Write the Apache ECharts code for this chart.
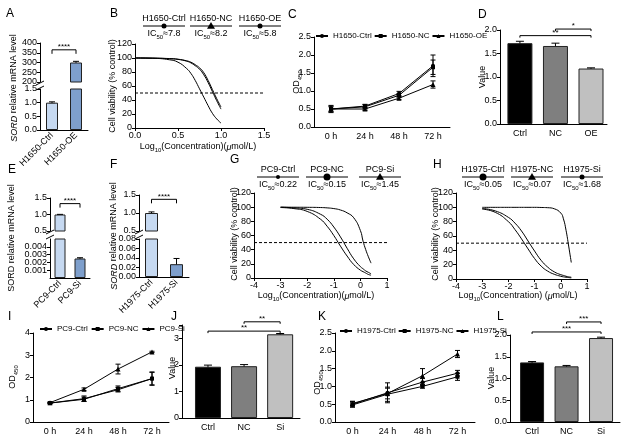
<!DOCTYPE html>
<html>
<head>
<meta charset="utf-8">
<script src="https://cdn.jsdelivr.net/npm/echarts@6/dist/echarts.min.js"></script>
<style>
  html, body { margin: 0; padding: 0; background: #fff; }
  #chart { width: 635px; height: 439px; }
</style>
</head>
<body>
<div id="chart"></div>
<script>
// ---- data ----
// A: SORD mRNA, H1650
const aCats = ['H1650-Ctrl', 'H1650-OE']
const aVals = [1.0, 300]
const aErr = [0.03, 6]
// B: viability curves, H1650
const bX = [0, 0.2, 0.4, 0.5, 0.6, 0.65, 0.7, 0.75, 0.8, 0.85, 0.9, 0.95, 1.0]
const bCtrl = [100, 99.8, 99, 98, 95.5, 93, 89, 84, 76, 65, 52, 39, 27]
const bNC = [100, 99.8, 99.2, 98.3, 96, 94, 90.5, 86, 79, 68, 55, 42, 30]
const bOE = [100, 99.6, 97.5, 94, 85, 78, 68, 56, 44, 32, 21, 13, 7]
// C: growth, H1650
const timeCats = ['0 h', '24 h', '48 h', '72 h']
const cCtrl = [0.5, 0.58, 0.93, 1.70]
const cCtrlErr = [0.1, 0.05, 0.06, 0.3]
const cNC = [0.5, 0.56, 0.88, 1.66]
const cNCErr = [0.08, 0.06, 0.05, 0.2]
const cOE = [0.5, 0.5, 0.8, 1.18]
const cOEErr = [0.06, 0.04, 0.04, 0.1]
// D
const dCats = ['Ctrl', 'NC', 'OE']
const dVals = [1.72, 1.66, 1.18]
const dErr = [0.04, 0.06, 0.015]
// E / F: SORD mRNA after knockdown
const eCats = ['PC9-Ctrl', 'PC9-Si']
const eVals = [1.0, 0.0025]
const eErr = [0.004, 0.0001]
const fCats = ['H1975-Ctrl', 'H1975-Si']
const fVals = [1.0, 0.027]
const fErr = [0.03, 0.012]
// G: viability curves, PC9
const gX = [-3, -2.5, -2, -1.5, -1.25, -1, -0.75, -0.5, -0.25, 0, 0.1, 0.2, 0.3, 0.4]
const gCtrl = [100, 99, 97, 90, 83, 72, 58, 42, 27, 16, 13, 10, 8, 6]
const gNC = [99.5, 98, 94, 83, 73, 60, 45, 31, 19, 11, 9, 7, 5, 4]
const gSi = [100, 99.9, 99.8, 99.5, 99, 98, 96, 92, 85, 67, 52, 40, 30, 21]
// H: viability curves, H1975
const hX = [-3, -2.5, -2, -1.75, -1.5, -1.25, -1, -0.75, -0.5, -0.25, 0, 0.1, 0.2, 0.3, 0.4]
const hCtrl = [97.5, 93, 80, 69, 56, 42, 28.5, 18, 11, 6.6, 3.8, 3, 2.5, 2, 1.6]
const hNC = [98.4, 95, 86, 78, 67, 53, 39, 26, 16.6, 10, 6, 5, 3.8, 3, 2.5]
const hSi = [100, 100, 100, 100, 100, 100, 100, 99.8, 99.5, 98, 92, 84, 68, 46, 23]
// I: growth, PC9
const iCtrl = [0.85, 1.05, 1.45, 1.95]
const iCtrlErr = [0.03, 0.12, 0.1, 0.3]
const iNC = [0.85, 1.02, 1.5, 1.95]
const iNCErr = [0.03, 0.1, 0.12, 0.28]
const iSi = [0.87, 1.47, 2.38, 3.15]
const iSiErr = [0.03, 0.06, 0.22, 0.03]
// J
const jCats = ['Ctrl', 'NC', 'Si']
const jVals = [1.93, 1.95, 3.15]
const jErr = [0.06, 0.06, 0.03]
// K: growth, H1975
const kCtrl = [0.5, 0.82, 1.12, 1.37]
const kCtrlErr = [0.08, 0.28, 0.1, 0.08]
const kNC = [0.48, 0.78, 1.0, 1.27]
const kNCErr = [0.06, 0.2, 0.05, 0.1]
const kSi = [0.52, 0.8, 1.3, 1.91]
const kSiErr = [0.06, 0.15, 0.2, 0.1]
// L
const lCats = ['Ctrl', 'NC', 'Si']
const lVals = [1.37, 1.28, 1.93]
const lErr = [0.02, 0.02, 0.02]
// significance brackets [from, to, level, text]
const aSig = [[0, 1, 365, '****']]
const eSig = [[0, 1, 1.33, '****']]
const fSig = [[0, 1, 1.38, '****']]
const dSig = [[0, 2, 1.88, '**'], [1, 2, 2.02, '*']]
const jSig = [[0, 2, 3.27, '**'], [1, 2, 3.62, '**']]
const lSig = [[0, 2, 2.07, '***'], [1, 2, 2.3, '***']]

const FONT = 'Liberation Sans, Arial, sans-serif'
const blueLight = '#c6d9f1'
const blueMid = '#7e9fcc'
const grays = ['#000000', '#7f7f7f', '#c0c0c0']

let grid = [], xAxis = [], yAxis = [], series = [], legend = [], graphic = []

const lbl = o => Object.assign({ color: '#000', fontSize: 9, fontFamily: FONT, margin: 3 }, o || {})
const axLine = { show: true, onZero: false, lineStyle: { color: '#000', width: 1 } }
const tick = { show: true, length: 3, lineStyle: { color: '#000', width: 1 } }

function vAxis(min, max, interval, fmt, extra) {
  return Object.assign({
    type: 'value', min: min, max: max, interval: interval,
    axisLine: axLine, axisTick: tick, splitLine: { show: false },
    axisLabel: lbl({ formatter: fmt })
  }, extra || {})
}
function cAxis(data, extra) {
  return Object.assign({
    type: 'category', data: data,
    axisLine: axLine, axisTick: { show: false }, splitLine: { show: false },
    axisLabel: lbl()
  }, extra || {})
}
function addPanel(l, t, w, h, xa, ya) {
  grid.push({ left: l, top: t, width: w, height: h })
  let gi = grid.length - 1
  xAxis.push(Object.assign({ gridIndex: gi }, xa))
  yAxis.push(Object.assign({ gridIndex: gi }, ya))
  return gi
}
// value-axis category labels for the bar panels
function catVal(names, min, max) {
  return {
    type: 'value', min: min, max: max,
    axisLine: axLine, axisTick: { show: false }, splitLine: { show: false },
    axisLabel: lbl({ customValues: [0, 1, 2], formatter: v => names[v] || '' , margin: 5})
  }
}

function bars(gi, vals, colors, width, useX) {
  series.push({
    type: 'bar', xAxisIndex: gi, yAxisIndex: gi, barWidth: width, z: 3, clip: true, silent: true,
    data: vals.map((v, i) => ({
      value: useX ? [i, v] : v,
      itemStyle: { color: colors[i], borderColor: '#222', borderWidth: 1 }
    }))
  })
}
function errs(gi, means, err, cap, z) {
  series.push({
    type: 'custom', xAxisIndex: gi, yAxisIndex: gi, z: z, silent: true, clip: true,
    data: means.map((m, i) => [i, m - err[i], m + err[i]]),
    renderItem: function (p, api) {
      let lo = api.coord([api.value(0), api.value(1)])
      let hi = api.coord([api.value(0), api.value(2)])
      let x = lo[0]
      let st = { stroke: '#000', lineWidth: 1 }
      return { type: 'group', children: [
        { type: 'line', shape: { x1: x, y1: lo[1], x2: x, y2: hi[1] }, style: st },
        { type: 'line', shape: { x1: x - cap, y1: hi[1], x2: x + cap, y2: hi[1] }, style: st },
        { type: 'line', shape: { x1: x - cap, y1: lo[1], x2: x + cap, y2: lo[1] }, style: st }
      ] }
    }
  })
}
function sig(gi, list, drop) {
  series.push({
    type: 'custom', xAxisIndex: gi, yAxisIndex: gi, z: 5, silent: true, clip: false,
    data: list.map(b => [b[0], b[1], b[2]]),
    renderItem: function (p, api) {
      let b = list[p.dataIndex]
      let p1 = api.coord([b[0], b[2]]), p2 = api.coord([b[1], b[2]])
      return { type: 'group', children: [
        { type: 'polyline', shape: { points: [[p1[0], p1[1] + drop], [p1[0], p1[1]], [p2[0], p2[1]], [p2[0], p2[1] + drop]] },
          style: { stroke: '#000', fill: null, lineWidth: 1 } },
        { type: 'text', style: { text: b[3], x: (p1[0] + p2[0]) / 2, y: p1[1] + 1, align: 'center', verticalAlign: 'bottom',
          fontSize: 8, fontFamily: FONT, fill: '#000' } }
      ] }
    }
  })
}
function curve(gi, xs, ys) {
  series.push({
    type: 'line', xAxisIndex: gi, yAxisIndex: gi, smooth: true, showSymbol: false, silent: true,
    lineStyle: { color: '#000', width: 1 },
    data: xs.map((x, i) => [x, ys[i]])
  })
}
function cutLine(gi, x0, x1) {
  series.push({
    type: 'line', xAxisIndex: gi, yAxisIndex: gi, showSymbol: false, silent: true,
    lineStyle: { color: '#000', width: 1, type: [3, 2] },
    data: [[x0, 50], [x1, 50]]
  })
}
function growth(gi, name, vals, err, symbol) {
  series.push({
    type: 'line', name: name, xAxisIndex: gi, yAxisIndex: gi, symbol: symbol, symbolSize: symbol === 'triangle' ? 5 : 4,
    showSymbol: true, silent: true, z: 4,
    itemStyle: { color: '#000' }, lineStyle: { color: '#000', width: 1 },
    data: vals
  })
  errs(gi, vals, err, 2.5, 3)
}

const SUB = {
  m: { fontSize: 9, fontFamily: FONT, lineHeight: 12 },
  s: { fontSize: 6, fontFamily: FONT, lineHeight: 12, verticalAlign: 'bottom' },
  i: { fontSize: 9, fontFamily: FONT, fontStyle: 'italic', lineHeight: 12 }
}
function txt(x, y, text, o) {
  o = o || {}
  graphic.push({
    type: 'text', x: x, y: y, rotation: o.rot || 0, silent: true,
    style: Object.assign({ text: text, fill: '#000', fontSize: 9, fontFamily: FONT, align: 'center',
      verticalAlign: 'middle', rich: SUB }, o.style || {})
  })
}
function letter(x, y, s) { txt(x, y, s, { style: { fontSize: 12, align: 'left' } }) }
function ytitle(x, y, s) { txt(x, y, s, { rot: Math.PI / 2 }) }
function brk(x, y) {
  graphic.push({ type: 'line', silent: true, shape: { x1: x - 4, y1: y + 2, x2: x + 4, y2: y - 2 },
    style: { stroke: '#000', lineWidth: 1 } })
}
function icItem(cx, y, title, ic, mk) {
  txt(cx, y, title)
  graphic.push({ type: 'line', silent: true, shape: { x1: cx - 21, y1: y + 7, x2: cx + 21, y2: y + 7 },
    style: { stroke: '#000', lineWidth: 1 } })
  if (mk[0] === 'c') {
    graphic.push({ type: 'circle', silent: true, shape: { cx: cx, cy: y + 7, r: mk[1] }, style: { fill: '#000' } })
  } else {
    let r = mk[1]
    graphic.push({ type: 'polygon', silent: true,
      shape: { points: [[cx, y + 7 - r], [cx - r, y + 7 + r * 0.7], [cx + r, y + 7 + r * 0.7]] }, style: { fill: '#000' } })
  }
  txt(cx, y + 15, '{m|IC}{s|50}{m|≈' + ic + '}')
}
function lineLegend(left, top, names, gap) {
  legend.push({
    left: left, top: top, itemWidth: 12, itemHeight: 5, itemGap: gap, selectedMode: false,
    padding: 0, textStyle: { fontSize: 8, fontFamily: 'Liberation Sans', color: '#000' }, data: names
  })
}
const f1 = v => v.toFixed(1)
const logName = '{m|Log}{s|10}{m|(Concentration)(}{i|μ}{m|mol/L)}'

// ---- A ----
let gA1 = addPanel(40, 43, 48, 39, cAxis(aCats, { show: false }), vAxis(200, 400, 50))
let gA2 = addPanel(40, 89, 48, 41, cAxis(aCats, { axisLabel: lbl({ rotate: 45, margin: 4 }) }), vAxis(0, 1.5, 0.5, f1))
;[gA1, gA2].forEach(g => { bars(g, aVals, [blueLight, blueMid], 12); errs(g, aVals, aErr, 3, 2) })
sig(gA1, aSig, 4)
brk(40, 83); brk(40, 88)
letter(6, 14, 'A')
ytitle(14, 88, '{i|SORD}{m| relative mRNA level}')

// ---- B ----
let gB = addPanel(135, 44, 129, 84, vAxis(0, 1.5, 0.5, f1), vAxis(0, 120, 20))
curve(gB, bX, bCtrl); curve(gB, bX, bNC); curve(gB, bX, bOE)
cutLine(gB, 0, 1.5)
letter(110, 14, 'B')
ytitle(113, 86, 'Cell viability (% control)')
txt(198, 147, logName)
icItem(164, 19, 'H1650-Ctrl', '7.8', ['c', 2.5])
icItem(211, 19, 'H1650-NC', '8.2', ['t', 4])
icItem(260, 19, 'H1650-OE', '5.8', ['c', 2.5])

// ---- C ----
let gC = addPanel(314, 37, 136, 90, cAxis(timeCats, { axisLabel: lbl({ margin: 5 }) }), vAxis(0, 2.5, 0.5, f1))
growth(gC, 'H1650-Ctrl', cCtrl, cCtrlErr, 'circle')
growth(gC, 'H1650-NC', cNC, cNCErr, 'rect')
growth(gC, 'H1650-OE', cOE, cOEErr, 'triangle')
lineLegend(315, 32, ['H1650-Ctrl', 'H1650-NC', 'H1650-OE'], 2)
letter(288, 15, 'C')
ytitle(297, 82, '{m|OD}{s|450}')

// ---- D ----
let gD = addPanel(500, 30, 107, 94, catVal(dCats, -0.56, 2.45), vAxis(0, 2, 0.5, f1))
bars(gD, dVals, grays, 25, true); errs(gD, dVals, dErr, 4, 2)
sig(gD, dSig, 2)
letter(478, 15, 'D')
ytitle(483, 77, 'Value')

// ---- E ----
let gE1 = addPanel(50, 198, 40, 33, cAxis(eCats, { show: false }), vAxis(0.5, 1.5, 0.5, f1))
let gE2 = addPanel(50, 239, 40, 39, cAxis(eCats, { axisLabel: lbl({ rotate: 45, margin: 4 }) }),
  vAxis(0, 0.005, 0.001, v => v.toFixed(3)))
;[gE1, gE2].forEach(g => { bars(g, eVals, [blueLight, blueMid], 11); errs(g, eVals, eErr, 3, 2) })
sig(gE1, eSig, 4)
brk(50, 232); brk(50, 237)
letter(8, 170, 'E')
ytitle(12, 238, '{m|SORD relative mRNA level}')

// ---- F ----
let gF1 = addPanel(139, 195, 50, 36, cAxis(fCats, { show: false }), vAxis(0.5, 1.5, 0.5, f1))
let gF2 = addPanel(139, 239, 50, 38, cAxis(fCats, { axisLabel: lbl({ rotate: 45, margin: 4 }) }),
  vAxis(0, 0.08, 0.02, v => v.toFixed(2)))
;[gF1, gF2].forEach(g => { bars(g, fVals, [blueLight, blueMid], 13); errs(g, fVals, fErr, 3, 2) })
sig(gF1, fSig, 4)
brk(139, 232); brk(139, 237)
letter(110, 165, 'F')
ytitle(114, 236, '{i|SORD}{m| relative mRNA level}')

// ---- G ----
let gG = addPanel(254, 193, 133, 85, vAxis(-4, 1, 1), vAxis(0, 120, 20))
curve(gG, gX, gCtrl); curve(gG, gX, gNC); curve(gG, gX, gSi)
cutLine(gG, -4, 1)
letter(230, 160, 'G')
ytitle(235, 234, 'Cell viability (% control)')
txt(316, 296, logName)
icItem(278, 170, 'PC9-Ctrl', '0.22', ['c', 2])
icItem(327, 170, 'PC9-NC', '0.15', ['c', 3.5])
icItem(380, 170, 'PC9-Si', '1.45', ['t', 4])

// ---- H ----
let gH = addPanel(456, 193, 131, 86, vAxis(-4, 1, 1), vAxis(0, 120, 20))
curve(gH, hX, hCtrl); curve(gH, hX, hNC); curve(gH, hX, hSi)
cutLine(gH, -4, 1)
letter(433, 165, 'H')
ytitle(436, 234, 'Cell viability (% control)')
txt(518, 296, '{m|Log}{s|10}{m|(Concentration) (}{i|μ}{m|mol/L)}')
icItem(483, 170, 'H1975-Ctrl', '0.05', ['c', 3.5])
icItem(532, 170, 'H1975-NC', '0.07', ['t', 4])
icItem(582, 170, 'H1975-Si', '1.68', ['c', 2.5])

// ---- I ----
let gI = addPanel(33, 333, 136, 89, cAxis(timeCats, { axisLabel: lbl({ margin: 5 }) }), vAxis(0, 4, 1))
growth(gI, 'PC9-Ctrl', iCtrl, iCtrlErr, 'circle')
growth(gI, 'PC9-NC', iNC, iNCErr, 'rect')
growth(gI, 'PC9-Si', iSi, iSiErr, 'triangle')
lineLegend(39, 325, ['PC9-Ctrl', 'PC9-NC', 'PC9-Si'], 3)
letter(8, 317, 'I')
ytitle(13, 377, '{m|OD}{s|450}')

// ---- J ----
let gJ = addPanel(182, 325, 118, 93, catVal(jCats, -0.72, 2.55),
  vAxis(0, 3.5, 1, v => Number.isInteger(v) ? v : ''))
bars(gJ, jVals, grays, 26, true); errs(gJ, jVals, jErr, 4, 2)
sig(gJ, jSig, 2)
letter(171, 317, 'J')
ytitle(173, 368, 'Value')

// ---- K ----
let gK = addPanel(335, 333, 140, 89, cAxis(timeCats, { axisLabel: lbl({ margin: 5 }) }), vAxis(0, 2.5, 0.5, f1))
growth(gK, 'H1975-Ctrl', kCtrl, kCtrlErr, 'circle')
growth(gK, 'H1975-NC', kNC, kNCErr, 'rect')
growth(gK, 'H1975-Si', kSi, kSiErr, 'triangle')
lineLegend(339, 327, ['H1975-Ctrl', 'H1975-NC', 'H1975-Si'], 2)
letter(318, 317, 'K')
ytitle(318, 383, '{m|OD}{s|450}')

// ---- L ----
let gL = addPanel(510, 335, 110, 87, catVal(lCats, -0.64, 2.55), vAxis(0, 2, 0.5, f1))
bars(gL, lVals, grays, 24, true); errs(gL, lVals, lErr, 4, 2)
sig(gL, lSig, 2)
letter(497, 317, 'L')
ytitle(492, 378, 'Value')

let chart = echarts.init(document.getElementById('chart'), null, { renderer: 'canvas' })
chart.setOption({
  animation: false,
  backgroundColor: '#fff',
  textStyle: { fontFamily: FONT },
  grid: grid, xAxis: xAxis, yAxis: yAxis, series: series, legend: legend, graphic: graphic
})
</script>
</body>
</html>
